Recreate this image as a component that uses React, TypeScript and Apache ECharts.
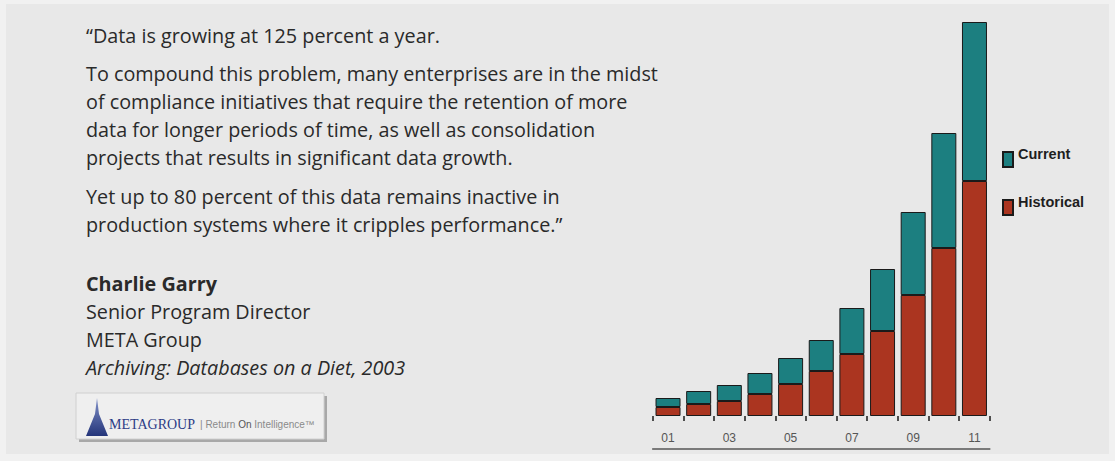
import React, { useEffect, useRef } from "react";
import * as echarts from "echarts";

const years = ["01", "02", "03", "04", "05", "06", "07", "08", "09", "10", "11"];
const historical = [9, 12, 15, 22, 32, 45, 62, 85, 121, 168, 235];
const current = [9, 13, 16, 21, 26, 31, 46, 62, 83, 115, 159];

const quoteLines = [
  { text: "\u201CData is growing at 125 percent a year.", y: 42, style: "normal", weight: "normal" },
  { text: "To compound this problem, many enterprises are in the midst", y: 80, style: "normal", weight: "normal" },
  { text: "of compliance initiatives that require the retention of more", y: 108, style: "normal", weight: "normal" },
  { text: "data for longer periods of time, as well as consolidation", y: 136, style: "normal", weight: "normal" },
  { text: "projects that results in significant data growth.", y: 164, style: "normal", weight: "normal" },
  { text: "Yet up to 80 percent of this data remains inactive in", y: 203, style: "normal", weight: "normal" },
  { text: "production systems where it cripples performance.\u201D", y: 231, style: "normal", weight: "normal" },
  { text: "Charlie Garry", y: 290, style: "normal", weight: "bold" },
  { text: "Senior Program Director", y: 318, style: "normal", weight: "normal" },
  { text: "META Group", y: 346, style: "normal", weight: "normal" },
  { text: "Archiving: Databases on a Diet, 2003", y: 374, style: "italic", weight: "normal" },
];

const TEAL = "#1c7f80";
const RED = "#ab3520";

export default function App() {
  const ref = useRef<HTMLDivElement>(null);
  useEffect(() => {
    if (!ref.current) return;
    const chart = echarts.init(ref.current, null, { renderer: "svg" });
    const FS = 19.8;
    const textEls = quoteLines.map((l) => ({
      type: "text",
      x: 86,
      y: l.y - 7,
      silent: true,
      style: {
        text: l.text,
        fill: "#2a2a2a",
        fontSize: FS,
        fontFamily: "Open Sans",
        fontStyle: l.style,
        fontWeight: l.weight,
        verticalAlign: "middle",
        align: "left",
      },
    }));
    chart.setOption({
      animation: false,
      backgroundColor: "#f1f1f1",
      graphic: [
        { type: "rect", z: -10, shape: { x: 6, y: 4, width: 1103, height: 450 }, style: { fill: "#e8e8e8" }, silent: true },
        ...textEls,
        { type: "rect", shape: { x: 79, y: 396, width: 248, height: 46 }, style: { fill: "#a8a8a8" }, silent: true },
        { type: "rect", shape: { x: 76, y: 393, width: 248, height: 46 }, style: { fill: "#efefef", stroke: "#d0d0d0", lineWidth: 1 }, silent: true },
        {
          type: "polygon",
          shape: { points: [[86, 436], [95, 414], [97, 398], [99, 414], [108, 436]] },
          style: {
            fill: new echarts.graphic.LinearGradient(0, 0, 0, 1, [
              { offset: 0, color: "#8090c8" },
              { offset: 1, color: "#24357a" },
            ]),
          },
          silent: true,
        },
        {
          type: "text",
          x: 109,
          y: 424,
          silent: true,
          style: {
            text: "METAGROUP",
            fill: "#2c3c86",
            fontSize: 14,
            fontFamily: "Liberation Serif",
            verticalAlign: "middle",
            align: "left",
          },
        },
        {
          type: "text",
          x: 200,
          y: 424,
          silent: true,
          style: {
            text: "{a|| Return }{b|On}{a| Intelligence\u2122}",
            verticalAlign: "middle",
            align: "left",
            rich: {
              a: { fill: "#8a8a8a", fontSize: 10, fontFamily: "Liberation Sans" },
              b: { fill: "#555555", fontSize: 10, fontFamily: "Liberation Sans" },
            },
          },
        },
      ],
      legend: {
        data: ["Current", "Historical"],
        orient: "vertical",
        left: 1002,
        top: 146,
        padding: 0,
        itemWidth: 10,
        itemHeight: 15,
        itemGap: 26,
        icon: "rect",
        formatter: "{a|{name}}",
        textStyle: {
          color: "#1e1e1e",
          fontSize: 14.5,
          fontWeight: "bold",
          fontFamily: "Liberation Sans",
          rich: {
            a: {
              color: "#1e1e1e",
              fontSize: 14.5,
              fontWeight: "bold",
              fontFamily: "Liberation Sans",
              padding: [0, 0, 12, 0],
            },
          },
        },
      },
      grid: { left: 652.7, right: 125.2, top: 16, bottom: 45 },
      xAxis: [
        {
          type: "category",
          data: years,
          axisLine: { show: true, lineStyle: { color: "rgba(0,0,0,0)" } },
          axisTick: {
            show: true,
            length: 5,
            interval: 0,
            lineStyle: { color: "#1a1a1a", width: 1.5 },
          },
          axisLabel: {
            interval: 1,
            color: "#555555",
            fontSize: 12,
            fontFamily: "Liberation Sans",
            margin: 16,
          },
        },
        {
          type: "category",
          data: years,
          position: "bottom",
          offset: 33,
          axisLine: { show: true, lineStyle: { color: "#555", width: 1.5 } },
          axisTick: { show: false },
          axisLabel: { show: false },
        },
      ],
      yAxis: {
        type: "value",
        min: 0,
        max: 400,
        show: false,
        splitLine: { show: false },
      },
      series: [
        {
          name: "Historical",
          type: "bar",
          stack: "total",
          barWidth: 25,
          data: historical,
          itemStyle: { color: RED, borderColor: "#1a1a1a", borderWidth: 1 },
        },
        {
          name: "Current",
          type: "bar",
          stack: "total",
          barWidth: 25,
          data: current,
          itemStyle: { color: TEAL, borderColor: "#1a1a1a", borderWidth: 1 },
        },
      ],
    });
    return () => chart.dispose();
  }, []);
  return (
    <div
      ref={ref}
      style={{ position: "fixed", left: 0, top: 0, width: 1115, height: 461 }}
    />
  );
}
